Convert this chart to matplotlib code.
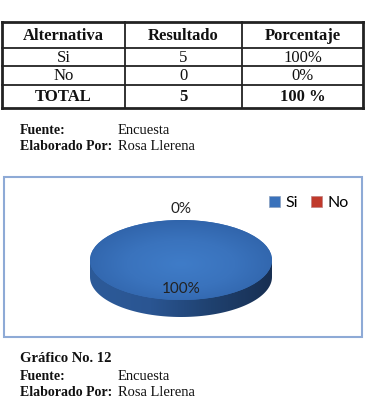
import numpy as np
import matplotlib
matplotlib.use("Agg")
import matplotlib.pyplot as plt
from matplotlib.patches import Polygon, Rectangle
from matplotlib.colors import LinearSegmentedColormap

# ---- data ----
alternativas = ["Si", "No"]
resultados = [5, 0]
porcentajes = ["100%", "0%"]
total_label = "TOTAL"
total_result = "5"
total_pct = "100 %"
headers = ["Alternativa", "Resultado", "Porcentaje"]
fuente = "Encuesta"
elaborado = "Rosa Llerena"
grafico = "Gráfico No. 12"

W, H = 367, 404
fig = plt.figure(figsize=(W / 100, H / 100), dpi=100)
fig.patch.set_facecolor("white")

# overlay axes in pixel coords (y down)
ov = fig.add_axes([0, 0, 1, 1])
ov.set_xlim(0, W)
ov.set_ylim(H, 0)
ov.axis("off")

serif = ["Liberation Serif", "DejaVu Serif"]
sans = ["Lato", "DejaVu Sans"]

# ---- table ----
col_x = [2, 125, 242, 363]
row_y = [22, 48, 66, 85, 108]
rows = [headers,
        [alternativas[0], str(resultados[0]), porcentajes[0]],
        [alternativas[1], str(resultados[1]), porcentajes[1]],
        [total_label, total_result, total_pct]]
for y in row_y:
    lw = 2.0 if y in (row_y[0], row_y[-1]) else 1.3
    ov.plot([col_x[0], col_x[-1]], [y, y], color="#222222", lw=lw, solid_capstyle="projecting")
for x in col_x:
    lw = 2.0 if x in (col_x[0], col_x[-1]) else 1.3
    ov.plot([x, x], [row_y[0], row_y[-1]], color="#222222", lw=lw, solid_capstyle="projecting")
for ri, row in enumerate(rows):
    bold = ri in (0, 3)
    yc = (row_y[ri] + row_y[ri + 1]) / 2 + 0.5
    for ci, txt in enumerate(row):
        xc = (col_x[ci] + col_x[ci + 1]) / 2
        ov.text(xc, yc, txt, ha="center", va="center", fontsize=12,
                family=serif, fontweight="bold" if bold else "normal",
                color="#111111")

# ---- source lines ----
def src(y, label, value):
    ov.text(20, y, label, ha="left", va="center", fontsize=10, family=serif,
            fontweight="bold", color="#111111")
    ov.text(118, y, value, ha="left", va="center", fontsize=10.5, family=serif,
            color="#111111")

src(130, "Fuente:", fuente)
src(147, "Elaborado Por:", elaborado)

ov.text(20, 358, grafico, ha="left", va="center", fontsize=10.5, family=serif,
        fontweight="bold", color="#111111")
src(376, "Fuente:", fuente)
src(393, "Elaborado Por:", elaborado)

# chart frame
ov.add_patch(Rectangle((3.5, 177), 358.5, 160, fill=False, ec="#8eaad6", lw=1.5))

# ---- pie ----
cx, cy, rx, ry, thick = 181, 260, 91, 40, 17
t_units = thick / ry
left = (cx - rx) / W
width = 2 * rx / W
bottom = (H - (cy + ry + thick)) / H
height = (2 * ry + thick) / H
pax = fig.add_axes([left, bottom, width, height])
pax.set_xlim(-1, 1)
pax.set_ylim(-1 - t_units, 1)
pax.axis("off")

colors_top = ["#3a72bb", "#c0392b"]

# side with horizontal gradient
th = np.linspace(np.pi, 2 * np.pi, 100)
side_pts = np.column_stack([np.cos(th), np.sin(th) - t_units])
side_pts = np.vstack([side_pts, [[1, 0], [-1, 0]]])
side = Polygon(side_pts, closed=True, fc="none", ec="none")
pax.add_patch(side)
side_cmap = LinearSegmentedColormap.from_list("side", ["#2d5b99", "#2a5592", "#1f416f", "#182f52"])
grad = np.linspace(0, 1, 256).reshape(1, -1)
im = pax.imshow(grad, cmap=side_cmap, extent=[-1, 1, -1 - t_units, 0],
                aspect="auto", zorder=1)
im.set_clip_path(side)

def autopct(p):
    return "" if p < 0.5 else f"{p:.0f}%"

pie_labels = ["" if r > 0 else f"{0:.0f}%" for r in resultados]
wedges, texts, autotexts = pax.pie(
    resultados, colors=colors_top, startangle=90, counterclock=False,
    labels=pie_labels, labeldistance=1.27, autopct=autopct, pctdistance=0.72,
    wedgeprops=dict(linewidth=0), textprops=dict(fontsize=11, family=sans,
                                               color="#222222", ha="center", va="center"),
    frame=False)
for w in wedges:
    w.set_zorder(2)
pax.set_aspect("auto")
pax.set_xlim(-1, 1)
pax.set_ylim(-1 - t_units, 1)

# top-face radial shading
yy, xx = np.mgrid[-1:1:200j, -1:1:200j]
rr = np.sqrt(xx ** 2 + ((yy + 0.1) * 1.0) ** 2)
top_cmap = LinearSegmentedColormap.from_list("top", ["#3f7cc8", "#3a73bd", "#2f62a8"])
im2 = pax.imshow(rr, cmap=top_cmap, extent=[-1, 1, -1, 1], origin="lower",
                 aspect="auto", zorder=3, vmin=0, vmax=1.2)
im2.set_clip_path(wedges[0])
for t in texts + autotexts:
    t.set_zorder(5)

# ---- legend ----
handles = [Rectangle((0, 0), 1, 1, fc=c, ec="#8aa0c0" if i == 0 else "#c08080", lw=0.5)
           for i, c in enumerate(["#3a72bb", "#c0392b"])]
leg = ov.legend(handles, alternativas, loc="center", bbox_to_anchor=(309 / W, 1 - 203 / H),
                bbox_transform=fig.transFigure, ncol=2, frameon=False,
                handlelength=0.7, handleheight=0.7, handletextpad=0.35,
                columnspacing=0.8, prop=dict(family=sans, size=11.5))

fig.savefig("out.png", dpi=100)
